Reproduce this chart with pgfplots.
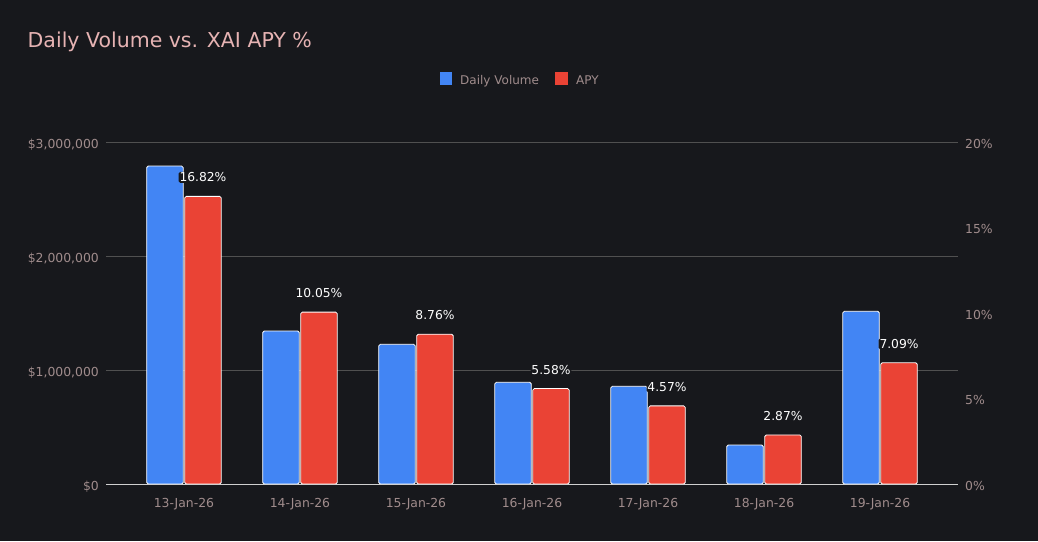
\documentclass[border=0pt]{standalone}
\usepackage{pgfplots}
\pgfplotsset{compat=1.18}
\usepackage{fontspec}
\setmainfont{DejaVu Sans}
\definecolor{bg}{HTML}{17181C}
\definecolor{bblue}{HTML}{4285F4}
\definecolor{bred}{HTML}{EA4335}
\definecolor{titlecol}{HTML}{E6B3B3}
\definecolor{tickcol}{HTML}{A08C8C}
\definecolor{gridcol}{HTML}{505050}
\definecolor{basecol}{HTML}{D0D0D0}
\pgfplotsset{/pgf/number format/assume math mode=true}
\begin{document}
\begin{tikzpicture}
\path[use as bounding box, fill=bg] (0,0) rectangle (1038pt,541pt);
\node[anchor=base west, text=titlecol, font=\fontsize{20.5}{24}\selectfont, inner sep=0pt] at (27.5pt,493.3pt) {Daily Volume vs. XAI APY \%};
% legend
\fill[bblue] (439.5pt,456pt) rectangle (452pt,468.5pt);
\node[anchor=base west, text=tickcol, font=\fontsize{12}{14}\selectfont, inner sep=0pt] at (460pt,456.7pt) {Daily Volume};
\fill[bred] (555pt,456pt) rectangle (567.5pt,468.5pt);
\node[anchor=base west, text=tickcol, font=\fontsize{12}{14}\selectfont, inner sep=0pt] at (576pt,456.7pt) {APY};
\begin{axis}[
  scale only axis, width=852pt, height=342pt,
  at={(106pt,57pt)}, anchor=south west,
  xmin=-0.672, xmax=6.672, ymin=0, ymax=3000000,
  axis line style={draw=none}, tick style={draw=none},
  ymajorgrids, grid style={gridcol, line width=0.8pt},
  xtick={0,1,2,3,4,5,6},
  xticklabels={13-Jan-26,14-Jan-26,15-Jan-26,16-Jan-26,17-Jan-26,18-Jan-26,19-Jan-26},
  ytick={0,1000000,2000000,3000000},
  yticklabels={\$0,{\$1,000,000},{\$2,000,000},{\$3,000,000}},
  scaled y ticks=false,
  ticklabel style={text=tickcol, font=\fontsize{12.4}{14}\selectfont, inner sep=0pt},
  xticklabel style={anchor=base, yshift=-19pt},
  yticklabel style={anchor=base east, xshift=-7pt, yshift=-6.3pt},
  ybar, bar width=36.5pt,
]
\addplot[bar shift=-19pt, fill=bblue, draw=white, line width=0.8pt, rounded corners=1.5pt] coordinates {
(0,2789000) (1,1342000) (2,1225000) (3,892000) (4,857000) (5,342000) (6,1515000)};
\end{axis}
\begin{axis}[
  scale only axis, width=852pt, height=342pt,
  at={(106pt,57pt)}, anchor=south west,
  xmin=-0.672, xmax=6.672, ymin=0, ymax=20,
  axis line style={draw=none}, tick style={draw=none},
  hide x axis,
  ytick={0,5,10,15,20},
  yticklabels={0\%,5\%,10\%,15\%,20\%},
  yticklabel pos=right,
  ticklabel style={text=tickcol, font=\fontsize{12.4}{14}\selectfont, inner sep=0pt},
  yticklabel style={anchor=base west, xshift=7pt, yshift=-6.3pt},
  ybar, bar width=36.5pt,
  nodes near coords={\pgfmathprintnumber[fixed,fixed zerofill,precision=2]{\pgfplotspointmeta}\%},
  every node near coord/.append style={anchor=base, yshift=14.5pt, text=white, fill=bg, inner sep=0.8pt, font=\fontsize{12.3}{14}\selectfont},
]
\addplot[bar shift=19pt, fill=bred, draw=white, line width=0.8pt, rounded corners=1.5pt] coordinates {
(0,16.82) (1,10.05) (2,8.76) (3,5.58) (4,4.57) (5,2.87) (6,7.09)};
\draw[basecol, line width=1pt] (rel axis cs:0,0) -- (rel axis cs:1,0);
\end{axis}
\end{tikzpicture}
\end{document}
